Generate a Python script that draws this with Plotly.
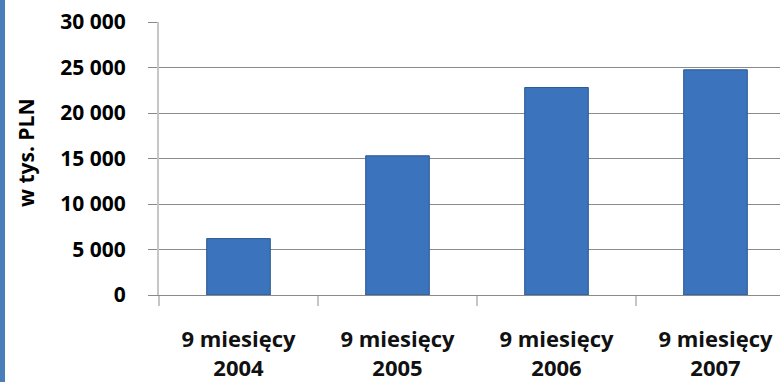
import plotly.graph_objects as go

categories = ["9 miesięcy<br>2004", "9 miesięcy<br>2005", "9 miesięcy<br>2006", "9 miesięcy<br>2007"]
values = [6200, 15300, 22800, 24750]
y_ticks = [0, 5000, 10000, 15000, 20000, 25000, 30000]
y_title = "w tys. PLN"

W, H = 780, 382
ML, MR, MT, MB = 159, 0, 22, 87
pw = W - ML - MR
ph = H - MT - MB

FONT = "Open Sans"
GRID = "#8a8a8a"
LIGHT = "#c6c6c6"

fig = go.Figure()
fig.add_trace(go.Bar(
    x=categories,
    y=values,
    width=0.4,
    marker=dict(color="#3b73bd", line=dict(color="#2b5893", width=1)),
    hoverinfo="skip",
))

fig.update_layout(
    width=W, height=H,
    margin=dict(l=ML, r=MR, t=MT, b=MB, pad=0),
    paper_bgcolor="white", plot_bgcolor="white",
    showlegend=False,
    separators=", ",
    font=dict(family=FONT, color="black"),
    xaxis=dict(
        type="category",
        range=[-0.5, -0.5 + pw / 159.0],
        tickson="boundaries",
        ticks="outside", ticklen=10, tickwidth=2, tickcolor=LIGHT,
        showline=True, linecolor=GRID, linewidth=1,
        showgrid=False, zeroline=False,
        tickfont=dict(family=FONT, size=22, color="#111111", weight="bold"),
        ticklabelstandoff=25,
    ),
    yaxis=dict(
        range=[0, 30000],
        tickmode="array", tickvals=y_ticks,
        tickformat=",d",
        ticks="outside", ticklen=9, tickwidth=1, tickcolor=GRID,
        showline=True, linecolor=LIGHT, linewidth=2,
        showgrid=True, gridcolor=GRID, gridwidth=1,
        zeroline=False,
        tickfont=dict(family=FONT, size=21, color="black", weight="bold"),
        ticklabelstandoff=18,
    ),
    annotations=[dict(
        text=y_title, textangle=-90,
        xref="paper", yref="paper",
        x=(26 - ML) / pw, y=(H - MB - 153) / ph,
        xanchor="center", yanchor="middle", showarrow=False,
        font=dict(family=FONT, size=21, color="black", weight="bold"),
    )],
    shapes=[dict(
        type="rect", xref="paper", yref="paper",
        x0=(0 - ML) / pw, x1=(5 - ML) / pw,
        y0=(H - MB - H) / ph, y1=(H - MB) / ph,
        fillcolor="#4a7ebb", line=dict(width=0), layer="above",
    )],
)

fig.write_html("out.html")
